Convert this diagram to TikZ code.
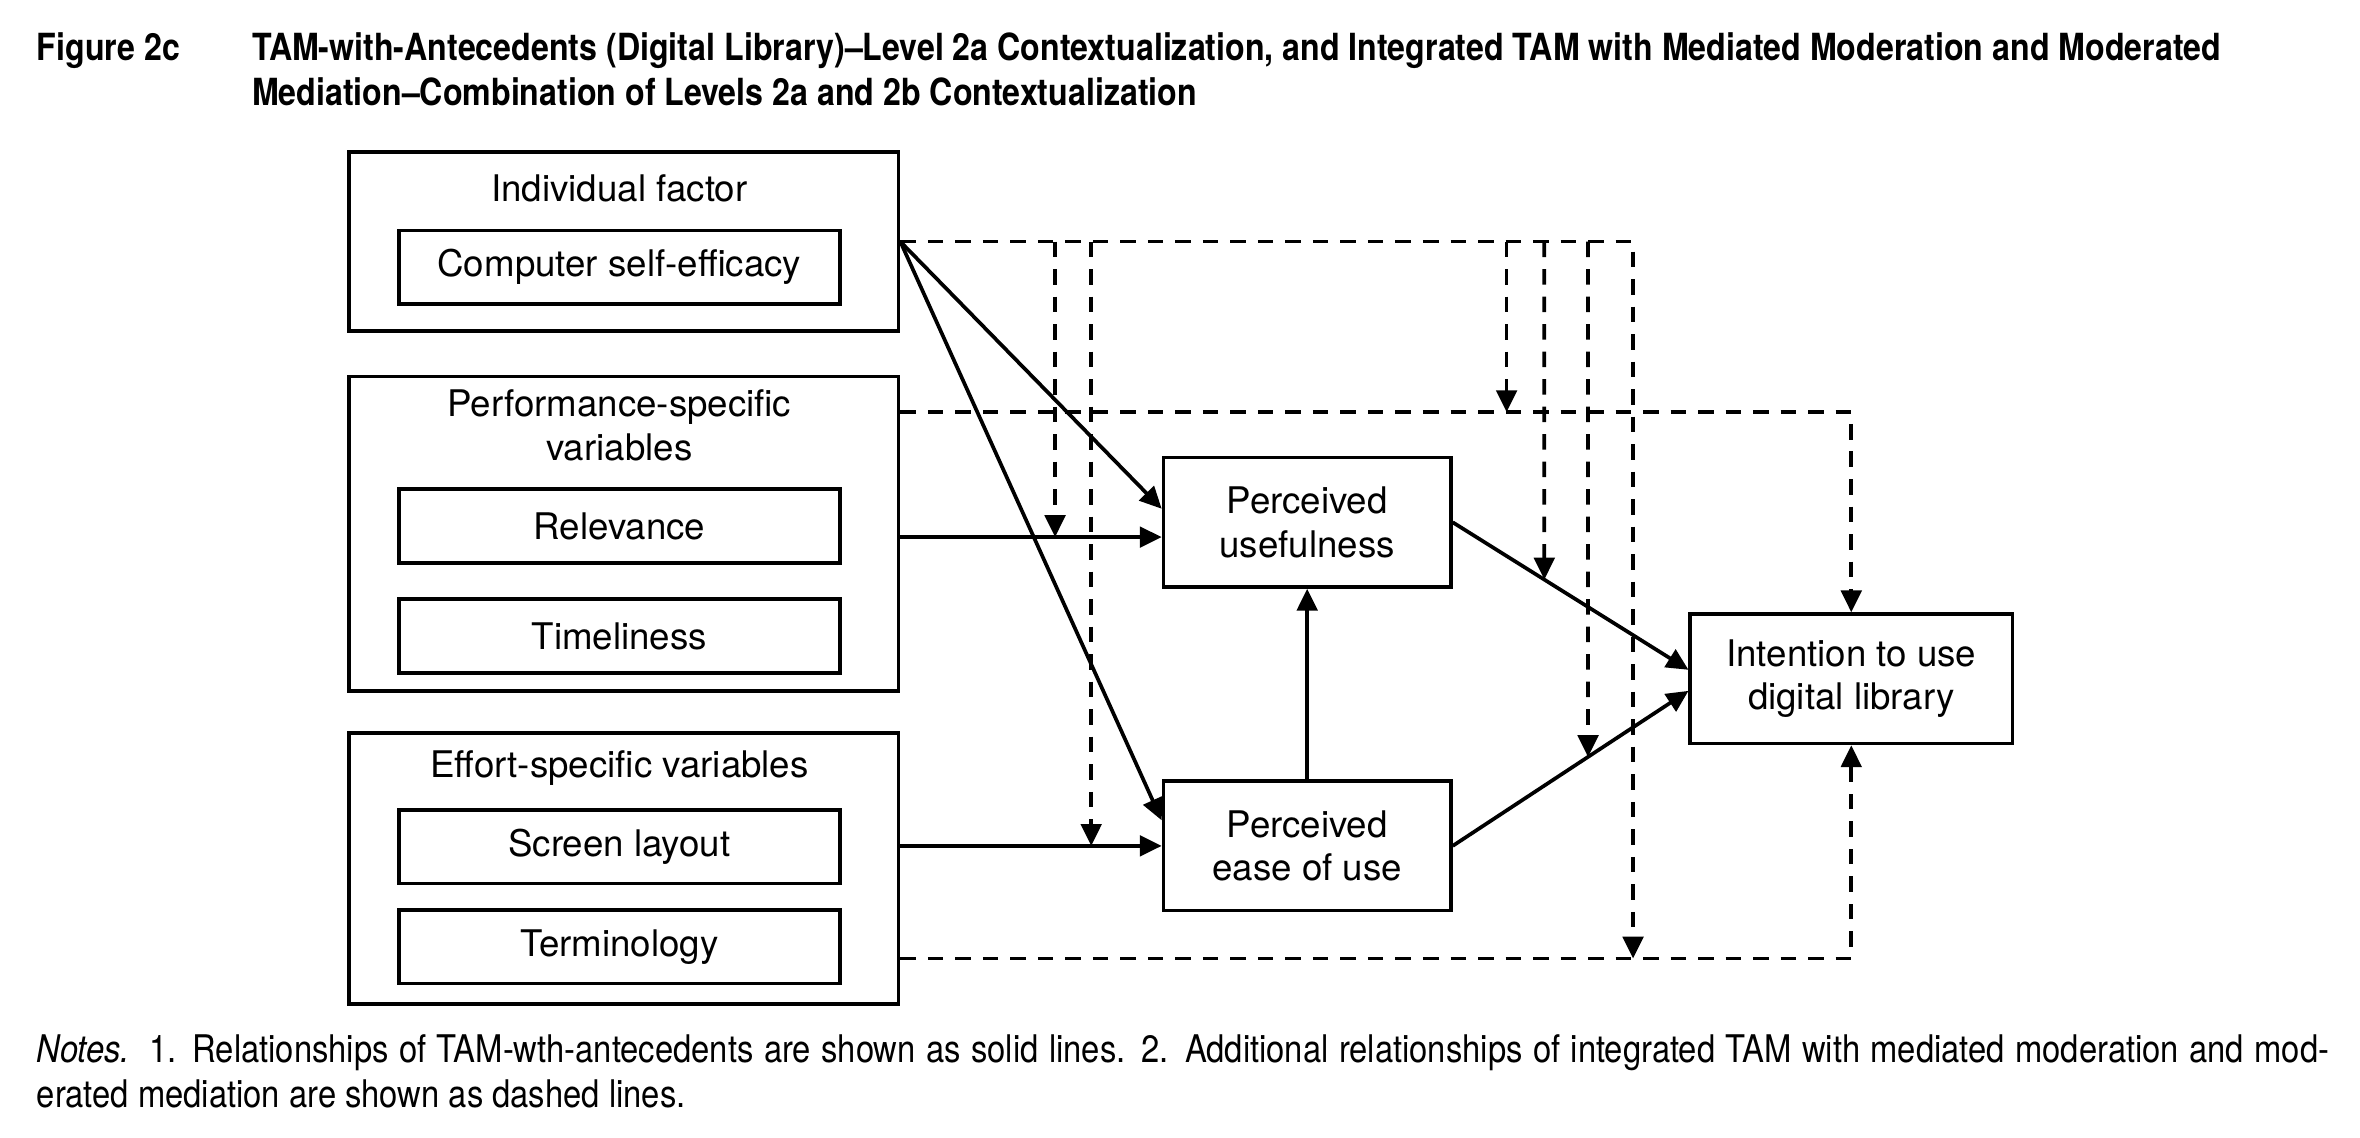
\documentclass[tikz,border=0pt]{standalone}
\usepackage{fontspec}
\setmainfont{TeX Gyre Heros}
\newfontfamily\condfont[FakeStretch=0.86]{TeX Gyre Heros}
\usetikzlibrary{arrows.meta,positioning,calc}

\begin{document}
\begin{tikzpicture}[x=0.015cm,y=-0.015cm,
    every node/.style={font=\fontsize{10.4}{12.3}\selectfont},
    box/.style={draw,line width=1pt,minimum width=4.395cm,minimum height=0.735cm,inner sep=0pt},
    group/.style={draw,line width=1pt,minimum width=5.475cm,inner sep=0pt},
    construct/.style={draw,line width=1pt,minimum height=1.29cm,align=center,inner sep=0pt},
    solidarrow/.style={line width=1.05pt,-{Triangle[length=6.2pt,width=5.8pt]}},
    dasharrow/.style={line width=1.05pt,dash pattern=on 4.4pt off 3.4pt,-{Triangle[length=6.2pt,width=5.8pt]}},
    titlefont/.style={font=\condfont\bfseries\fontsize{10.6}{12.8}\selectfont,inner sep=0pt},
    notefont/.style={font=\condfont\fontsize{10.8}{12.8}\selectfont,inner sep=0pt}]
  \useasboundingbox (0,0) rectangle (1568,756);

  % Caption
  \node[titlefont,anchor=base west] (fig) at (24,40) {Figure 2c};
  \node[titlefont,anchor=base west,align=left] (title) at (167,70)
    {TAM-with-Antecedents (Digital Library)–Level 2a Contextualization, and Integrated TAM with Mediated Moderation and Moderated\\
     Mediation–Combination of Levels 2a and 2b Contextualization};

  % Antecedent groups
  \node[group,minimum height=1.785cm] (indiv) at (414.5,160.5) {};
  \node (indivlab) at (411.5,125) {Individual factor};
  \node[box] (cse) at (411.5,177.5) {Computer self-efficacy};

  \node[group,minimum height=3.135cm] (perf) at (414.5,354.5) {};
  \node[align=center] (perflab) at (411.5,282.5) {Performance-specific\\variables};
  \node[box] (rel) at (411.5,349.5) {Relevance};
  \node[box] (time) at (411.5,422.5) {Timeliness};

  \node[group,minimum height=2.7cm] (effort) at (414.5,577) {};
  \node (effortlab) at (411.5,510) {Effort-specific variables};
  \node[box] (screen) at (411.5,562.5) {Screen layout};
  \node[box] (term) at (411.5,629) {Terminology};

  % TAM constructs
  \node[construct,minimum width=2.865cm] (pu) at (868.5,347) {Perceived\\usefulness};
  \node[construct,minimum width=2.865cm] (peou) at (868.5,562) {Perceived\\ease of use};
  \node[construct,minimum width=3.21cm] (intent) at (1230,451) {Intention to use\\digital library};

  % Junction points
  \coordinate (perfout) at ($(perf.north east)+(0,25)$);
  \coordinate (relout) at ($(perf.north east)+(0,108)$);
  \coordinate (effout) at ($(effort.north east)+(0,151)$);
  \coordinate (iu) at ([yshift=0.09cm]intent.west);
  \coordinate (ie) at ([yshift=-0.12cm]intent.west);
  \foreach \name/\x in {b1/701,b2/725,b3/1001,b4/1026,b5/1055,b6/1085}
    \coordinate (\name) at (\x,0 |- indiv.east);
  \coordinate (b4low) at (b4 |- intent.south);
  \coordinate (b5low) at (b5 |- intent.south);

  % Solid paths (TAM-with-antecedents)
  \draw[solidarrow] (indiv.east) -- ([yshift=0.135cm]pu.west);
  \draw[solidarrow] (indiv.east) -- ([yshift=0.255cm]peou.west);
  \draw[solidarrow] (relout) -- (relout -| pu.west);
  \draw[solidarrow] (effort.east |- peou) -- (peou.west);
  \draw[solidarrow] (peou.north) -- (pu.south);
  \draw[solidarrow] (pu.east) -- (iu);
  \draw[solidarrow] (peou.east) -- (ie);

  % Dashed paths (mediated moderation, moderated mediation)
  \draw[dasharrow] (indiv.east) -| (b6 |- effout);
  \draw[dasharrow] (b1) -- (b1 |- relout);
  \draw[dasharrow] (b2) -- (b2 |- peou);
  \draw[dasharrow] (b3) -- (b3 |- perfout);
  \draw[dasharrow] (b4) -- (intersection of b4--b4low and pu.east--iu);
  \draw[dasharrow] (b5) -- (intersection of b5--b5low and peou.east--ie);
  \draw[dasharrow] (perfout) -| (intent.north);
  \draw[dasharrow] (effout) -| (intent.south);

  % Notes
  \node[notefont,anchor=base west,align=left] (notes) at (24,736)
    {\makebox[22.845cm][s]{\textit{Notes.}\enspace 1. Relationships of TAM-wth-antecedents are shown as solid lines. 2. Additional relationships of integrated TAM with mediated moderation and mod-}\\
     erated mediation are shown as dashed lines.};
\end{tikzpicture}
\end{document}
